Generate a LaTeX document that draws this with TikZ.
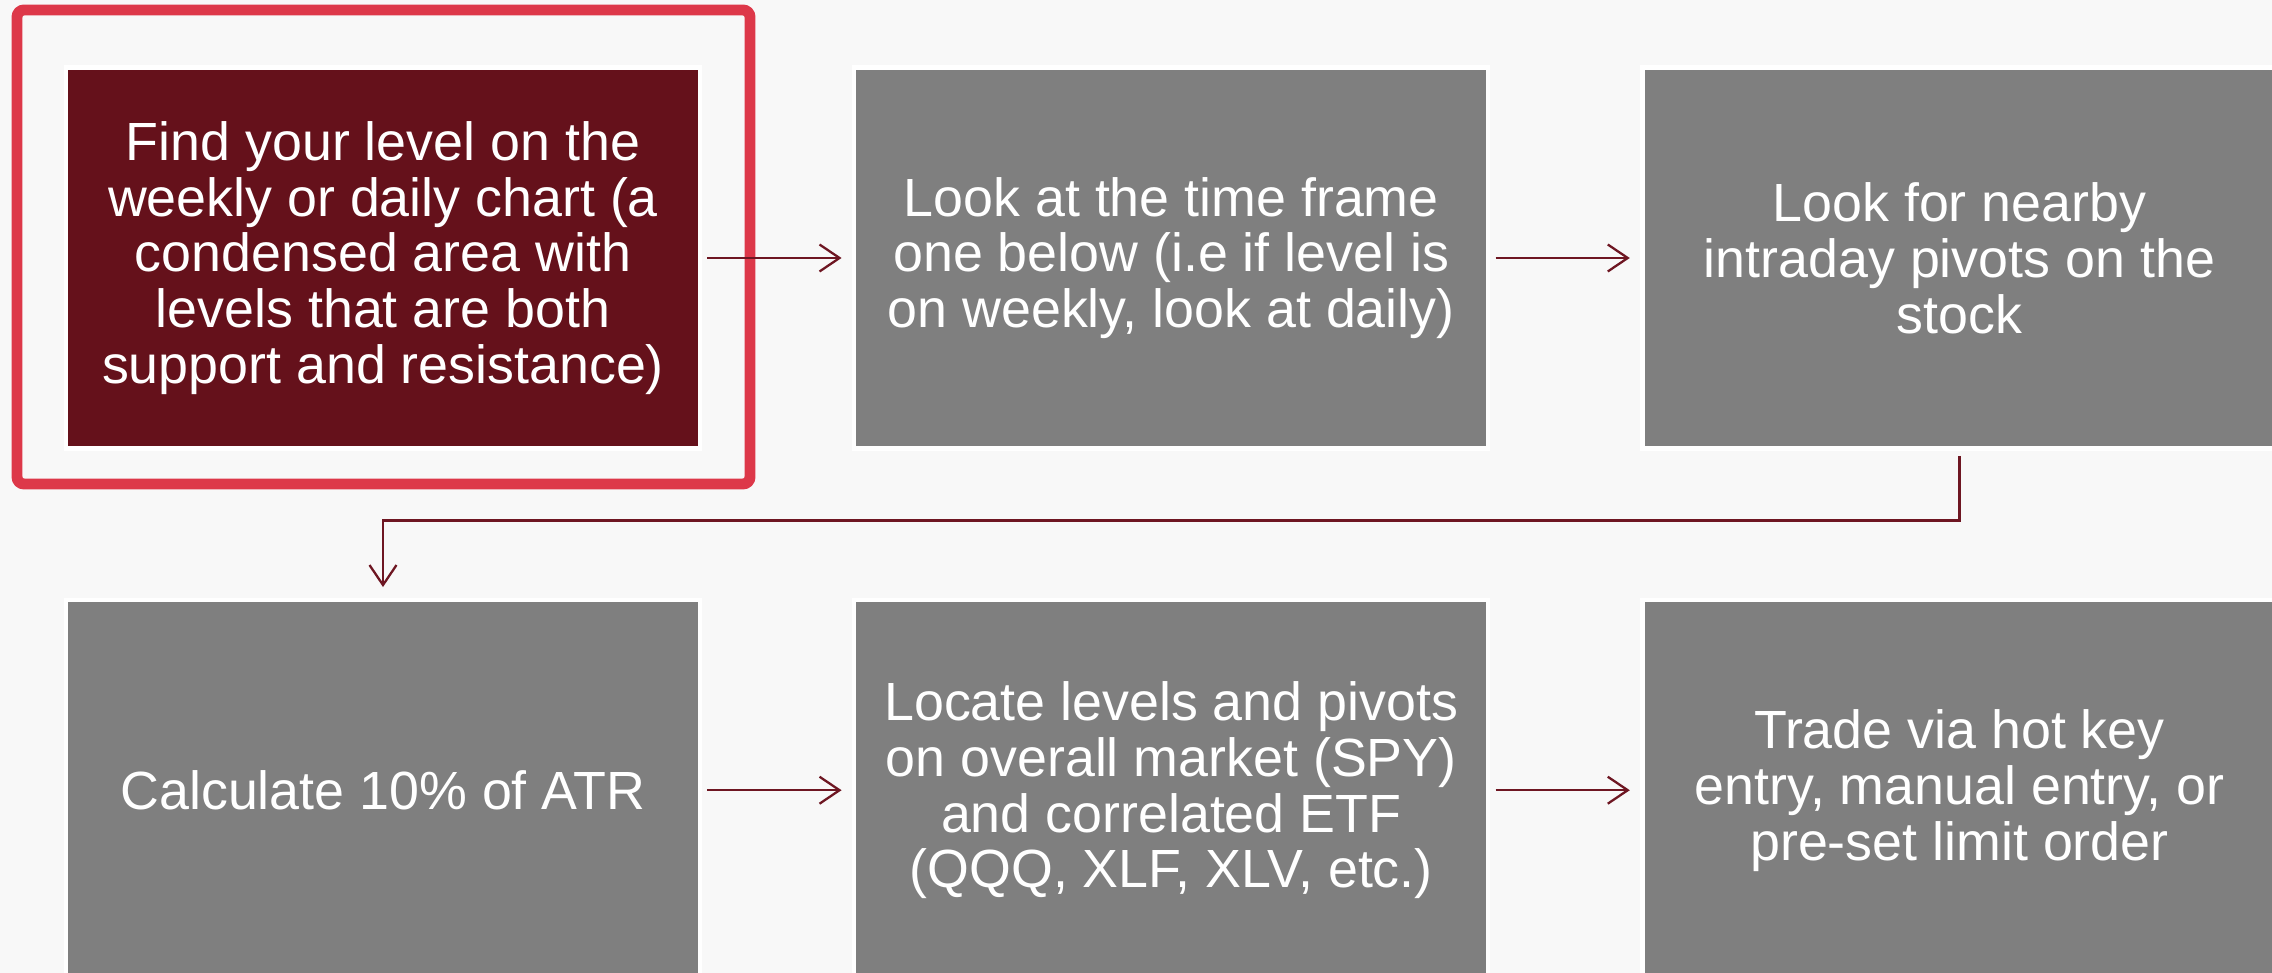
\documentclass[tikz,border=0pt]{standalone}
\usepackage{fontspec}
\setmainfont{Liberation Sans}
\usetikzlibrary{positioning,arrows.meta}
\definecolor{stepred}{RGB}{101,17,27}
\definecolor{stepgray}{RGB}{127,127,127}
\definecolor{hired}{RGB}{221,56,73}
\definecolor{linkred}{RGB}{110,22,34}
\definecolor{paper}{RGB}{248,248,248}
\tikzset{
  stepbox/.style={rectangle, fill=stepgray, draw=white, line width=1.2pt,
    minimum width=6.34cm, minimum height=3.81cm, text=white, align=center,
    font=\fontsize{15.3}{15.9}\selectfont},
  link/.style={-{Straight Barb[length=2mm,width=2.7mm]}, draw=linkred, line width=0.65pt,
    shorten <=1.5pt, shorten >=3pt},
  hilite/.style={draw=hired, line width=3.1pt, rounded corners=2pt}
}
\begin{document}
\begin{tikzpicture}[node distance=1.47cm and 1.50cm]
        \fill[paper] (0,0) rectangle (22.72,9.73);
        \useasboundingbox (0,0) rectangle (22.72,9.73);
        % top row
        \node[stepbox, fill=stepred] (level) at (3.83,7.15) {Find your level on the\\weekly or daily chart (a\\condensed area with\\levels that are both\\support and resistance)};
        \node[stepbox, right=of level] (lower) {Look at the time frame\\one below (i.e if level is\\on weekly, look at daily)};
        \node[stepbox, right=of lower] (pivots) {Look for nearby\\intraday pivots on the\\stock};
        % bottom row
        \node[stepbox, below=of level] (atr) {Calculate 10\% of ATR};
        \node[stepbox, right=of atr] (market) {Locate levels and pivots\\on overall market (SPY)\\and correlated ETF\\(QQQ, XLF, XLV, etc.)};
        \node[stepbox, right=of market] (trade) {Trade via hot key\\entry, manual entry, or\\pre-set limit order};
        \draw[hilite] (0.17,9.63) rectangle (7.50,4.89);
        \draw[link] (level) -- (lower);
        \draw[link] (lower) -- (pivots);
        \draw[link] (atr) -- (market);
        \draw[link] (market) -- (trade);
        \draw[link] (pivots.south) -- ++(0,-0.70) -| (atr.north);
    \end{tikzpicture}
\end{document}
